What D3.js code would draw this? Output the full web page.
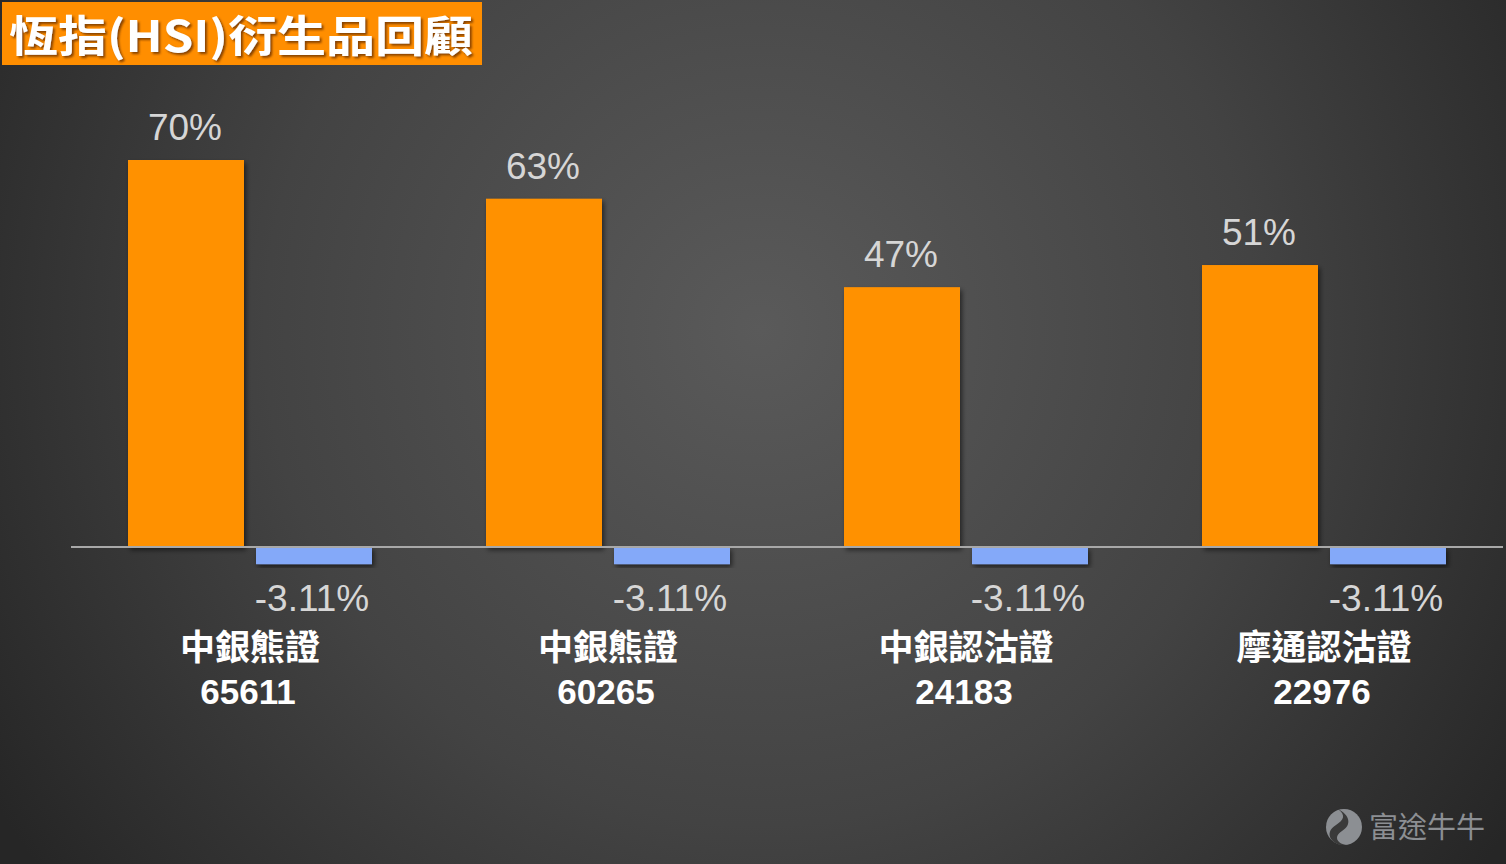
<!DOCTYPE html>
<html>
<head>
<meta charset="utf-8">
<script src="https://cdn.jsdelivr.net/npm/d3@7"></script>
<style>
  html, body { margin: 0; padding: 0; background: #333; }
  svg { display: block; }
</style>
</head>
<body>
<svg id="chart" width="1506" height="864"></svg>
<script>
const title = "恆指(HSI)衍生品回顧";
const categories = ["中銀熊證", "中銀熊證", "中銀認沽證", "摩通認沽證"];
const codes = ["65611", "60265", "24183", "22976"];
const seriesNames = ["up", "down"];
const upValues = [70, 63, 47, 51];
const downValues = [-3.11, -3.11, -3.11, -3.11];
const upLabels = ["70%", "63%", "47%", "51%"];
const downLabels = ["-3.11%", "-3.11%", "-3.11%", "-3.11%"];
const watermark = "富途牛牛";

const W = 1506, H = 864;
const svg = d3.select("#chart");
const defs = svg.append("defs");

const bg = defs.append("radialGradient").attr("id", "bg")
  .attr("gradientUnits", "userSpaceOnUse")
  .attr("cx", 760).attr("cy", 330).attr("r", 900);
bg.append("stop").attr("offset", "0%").attr("stop-color", "#5a5a5a");
bg.append("stop").attr("offset", "55%").attr("stop-color", "#434343");
bg.append("stop").attr("offset", "100%").attr("stop-color", "#262626");
svg.append("rect").attr("width", W).attr("height", H).attr("fill", "url(#bg)");

const sh = defs.append("filter").attr("id", "shadow")
  .attr("x", "-20%").attr("y", "-20%").attr("width", "140%").attr("height", "140%");
sh.append("feDropShadow").attr("dx", 2).attr("dy", 3).attr("stdDeviation", 2.5)
  .attr("flood-color", "#000").attr("flood-opacity", 0.55);
const tsh = defs.append("filter").attr("id", "tshadow")
  .attr("x", "-10%").attr("y", "-20%").attr("width", "120%").attr("height", "140%");
tsh.append("feDropShadow").attr("dx", 2).attr("dy", 2).attr("stdDeviation", 1.2)
  .attr("flood-color", "#6a3000").attr("flood-opacity", 0.8);

const data = categories.map((c, i) => ({
  cat: i, name: c, code: codes[i],
  vals: [
    { key: "up", v: upValues[i], label: upLabels[i] },
    { key: "down", v: downValues[i], label: downLabels[i] }
  ]
}));

const x0 = d3.scaleBand().domain(d3.range(categories.length)).range([71, 1503]).padding(0);
const x1 = d3.scaleBand().domain(seriesNames)
  .range([57, x0.bandwidth() - 57]).paddingInner(12 / 128).paddingOuter(0);
const y = d3.scaleLinear().domain([0, 70]).range([547, 160]);
const color = d3.scaleOrdinal().domain(seriesNames).range(["#ff9102", "#84a9f9"]);

const font = "'Liberation Sans', 'Noto Sans CJK TC', sans-serif";

const groups = svg.append("g").selectAll("g").data(data).join("g")
  .attr("transform", d => `translate(${x0(d.cat)},0)`);

groups.selectAll("rect").data(d => d.vals).join("rect")
  .attr("x", d => x1(d.key))
  .attr("width", x1.bandwidth())
  .attr("y", d => y(Math.max(0, d.v)))
  .attr("height", d => Math.abs(y(d.v) - y(0)))
  .attr("fill", d => color(d.key))
  .attr("filter", "url(#shadow)");

// axis line
svg.append("line").attr("x1", 71).attr("x2", 1503)
  .attr("y1", y(0)).attr("y2", y(0))
  .attr("stroke", "#a8a8a8").attr("stroke-width", 2);

groups.selectAll("text.val").data(d => d.vals).join("text")
  .attr("class", "val")
  .attr("x", d => x1(d.key) + x1.bandwidth() / 2 - (d.v < 0 ? 2 : 1))
  .attr("y", d => d.v >= 0 ? y(d.v) - 20 : y(d.v) + 47)
  .attr("text-anchor", "middle")
  .attr("font-family", font)
  .attr("font-size", 37)
  .attr("fill", "#d6d6d6")
  .text(d => d.label);

groups.append("text")
  .attr("x", x0.bandwidth() / 2)
  .attr("y", 660)
  .attr("text-anchor", "middle")
  .attr("font-family", font)
  .attr("font-weight", "bold")
  .attr("font-size", 35)
  .attr("fill", "#ffffff")
  .text(d => d.name);

groups.append("text")
  .attr("x", x0.bandwidth() / 2 - 2)
  .attr("y", 704)
  .attr("text-anchor", "middle")
  .attr("font-family", font)
  .attr("font-weight", "bold")
  .attr("font-size", 35)
  .attr("fill", "#ffffff")
  .text(d => d.code);

// title
svg.append("rect").attr("x", 2).attr("y", 2).attr("width", 480).attr("height", 63)
  .attr("fill", "#ff8e00");
svg.append("text").attr("x", 9).attr("y", 52)
  .attr("font-family", "'Noto Sans CJK TC', 'Liberation Sans', sans-serif")
  .attr("font-weight", "bold")
  .attr("font-size", 43)
  .attr("textLength", 464)
  .attr("lengthAdjust", "spacingAndGlyphs")
  .attr("fill", "#ffffff")
  .attr("filter", "url(#tshadow)")
  .text(title);

// watermark
const wm = svg.append("g").attr("transform", "translate(1344,827)");
wm.append("circle").attr("r", 18).attr("fill", "#8c8f93");
wm.append("path")
  .attr("d", "M-6,-18 C6,-12 8,-2 -2,4 C-10,9 -8,16 2,18 L-4,18 C-16,14 -18,4 -8,-2 C0,-7 2,-12 -6,-18 Z")
  .attr("fill", "#3a3a3a");
wm.append("circle").attr("cx", -9).attr("cy", 6).attr("r", 2.5).attr("fill", "#3a3a3a");
svg.append("text").attr("x", 1369).attr("y", 838)
  .attr("font-family", "'Noto Sans CJK TC', sans-serif")
  .attr("font-size", 29)
  .attr("fill", "#8c8f93")
  .text(watermark);
</script>
</body>
</html>
